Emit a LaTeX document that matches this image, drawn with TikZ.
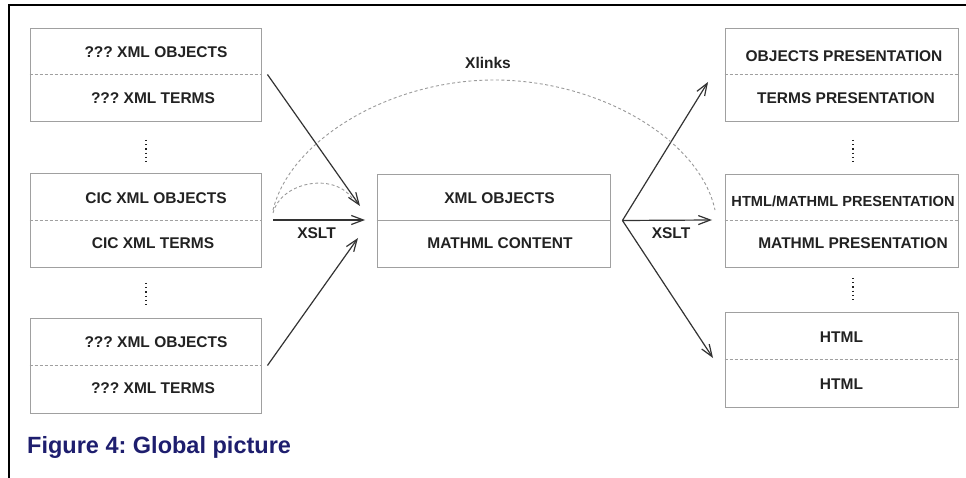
\documentclass[tikz,border=0pt]{standalone}
\usepackage{fontspec}
\setmainfont{Liberation Sans}
\usetikzlibrary{arrows.meta}
\definecolor{boxline}{HTML}{A0A0A0}
\definecolor{ink}{HTML}{222222}
\definecolor{arrowink}{HTML}{333333}
\definecolor{linkgray}{HTML}{9A9A9A}
\definecolor{captionblue}{HTML}{1E1E6E}
\frenchspacing

\begin{document}
\begin{tikzpicture}[x=1pt,y=-1pt,
  box/.style={draw=boxline, line width=0.9pt, minimum width=231pt, minimum height=93pt, inner sep=0pt},
  boxtext/.style={font=\fontsize{15.5}{16}\selectfont\bfseries, text=ink, inner sep=0pt},
  divider/.style={draw=boxline, line width=0.8pt, dash pattern=on 3pt off 2pt},
  flow/.style={draw=arrowink, line width=1.2pt, -{Straight Barb[length=12pt,width=9pt]}},
  xlink/.style={draw=linkgray, line width=0.9pt, dash pattern=on 3pt off 2.5pt},
  vdots/.style={draw=ink, line width=1.3pt, dash pattern=on 1.2pt off 3pt},
]
\useasboundingbox (0,0) rectangle (966,478);
\fill[white] (0,0) rectangle (966,478);
% page frame
\draw[black, line width=1.5pt] (9,478) -- (9,5) -- (966,5);

% source documents (left column)
\node[box] (L1) at (145.5,74.5) {};
\node[box, minimum height=94pt] (L2) at (145.5,220) {};
\node[box, minimum height=95pt] (L3) at (145.5,365.5) {};
\draw[divider] (L1.west) -- (L1.east);
\draw[divider] (L2.west) -- (L2.east);
\draw[divider] (L3.west) -- (L3.east);
\node[boxtext] (l1a) at (156,52) {??? XML OBJECTS};
\node[boxtext] (l1b) at (153,98) {??? XML TERMS};
\node[boxtext] (l2a) at (156,198) {CIC XML OBJECTS};
\node[boxtext] (l2b) at (153,243) {CIC XML TERMS};
\node[boxtext] (l3a) at (156,342) {??? XML OBJECTS};
\node[boxtext] (l3b) at (153,388) {??? XML TERMS};
\draw[vdots] (146,140) -- (146,162);
\draw[vdots] (146,283) -- (146,305);

% content layer (middle)
\node[box, minimum width=233pt] (M) at (493.5,220.5) {};
\draw[draw=boxline, line width=0.8pt] (M.west) -- (M.east);
\node[boxtext] (ma) at (499.5,198) {XML OBJECTS};
\node[boxtext] (mb) at (500,243) {MATHML CONTENT};

% presentations (right column)
\node[box, minimum width=233pt] (R1) at (841.5,74.5) {};
\node[box, minimum width=233pt] (R2) at (841.5,220.5) {};
\node[box, minimum width=233pt, minimum height=95pt] (R3) at (841.5,359.5) {};
\draw[divider] (R1.west) -- (R1.east);
\draw[divider] (R2.west) -- (R2.east);
\draw[divider] (R3.west) -- (R3.east);
\node[boxtext] (r1a) at (844,56) {OBJECTS PRESENTATION};
\node[boxtext] (r1b) at (846,98.5) {TERMS PRESENTATION};
\node[boxtext, font=\fontsize{14.6}{16}\selectfont\bfseries] (r2a) at (843,201) {HTML/MATHML PRESENTATION};
\node[boxtext] (r2b) at (853,243) {MATHML PRESENTATION};
\node[boxtext] (r3a) at (841.5,337) {HTML};
\node[boxtext] (r3b) at (841.5,384) {HTML};
\draw[vdots] (853,140) -- (853,162);
\draw[vdots] (853,278) -- (853,300);

% XSLT transformations into the content layer
\coordinate (inA) at (360,206);
\coordinate (inB) at (365,220);
\coordinate (inC) at (358,238);
\draw[flow] ([xshift=6pt]L1.east) -- (inA);
\draw[flow] ([xshift=12pt]L2.east) -- (inB);
\draw[flow] ([xshift=6pt]L3.east) -- (inC);
\node[boxtext] (xsltL) at (316.5,233) {XSLT};

% XSLT transformations out of the content layer
\coordinate (fork) at ([xshift=12pt]M.east);
\coordinate (outA) at (708,82);
\coordinate (outB) at (712,220);
\coordinate (outC) at (713,358);
\draw[flow] (fork) -- (outA);
\draw[flow] (fork) -- (outB);
\draw[flow] (fork) -- (outC);
\node[boxtext] (xsltR) at (671,233) {XSLT};

% Xlinks back to the source documents
\coordinate (linkL) at (273,210);
\coordinate (linkTop) at (494,80);
\coordinate (linkR) at (715,210);
\draw[xlink] (linkL) .. controls (290,140) and (390,80) .. (linkTop)
  .. controls (600,80) and (700,140) .. (linkR);
\coordinate (selfL) at (273,213);
\coordinate (selfR) at (352,198);
\draw[xlink] (selfL) .. controls (281,182) and (333,172) .. (selfR);
\node[boxtext, anchor=base] (xlinks) at (488,69) {Xlinks};

% caption
\node[anchor=base west, inner sep=0pt, text=captionblue,
      font=\fontsize{23.5}{26}\selectfont\bfseries] (caption) at (27,453) {Figure 4: Global picture};
\end{tikzpicture}
\end{document}
